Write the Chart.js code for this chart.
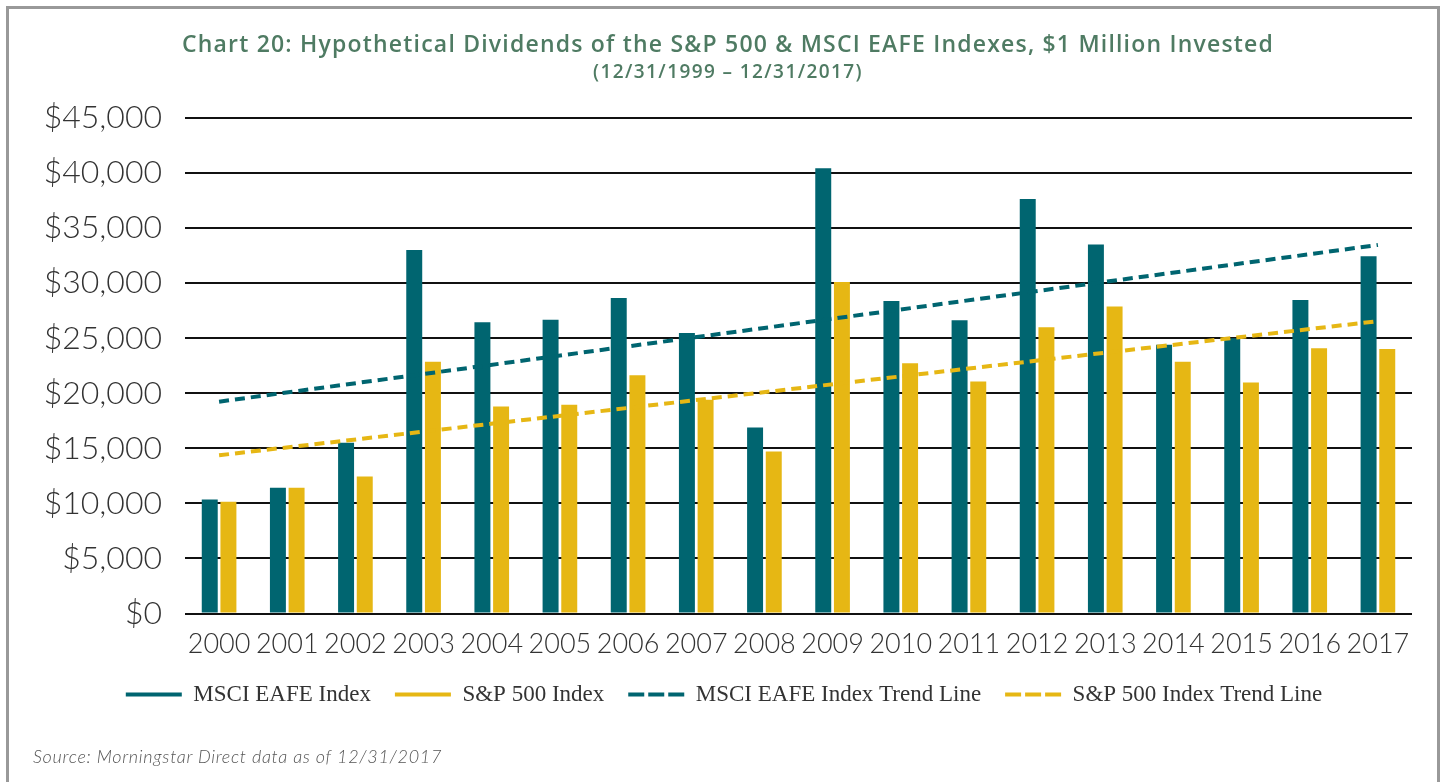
<!DOCTYPE html>
<html>
<head>
<meta charset="utf-8">
<title>Chart 20</title>
<script src="https://cdn.jsdelivr.net/npm/chart.js@4.4.1/dist/chart.umd.min.js"></script>
<style>
  html, body { margin: 0; padding: 0; background: #fff; }
  body { width: 1453px; height: 782px; position: relative; overflow: hidden; }
  #wrap { position: absolute; left: 0; top: 0; width: 1453px; height: 782px; }
  #frame {
    position: absolute; left: 6px; top: 6px; width: 1434px; height: 900px;
    border: 3px solid #999; box-sizing: border-box; pointer-events: none;
  }
  .head {
    position: absolute; left: 0; width: 1456px; text-align: center;
    font-family: "Open Sans", sans-serif; font-weight: 600; color: #4f7b63;
    line-height: 28px; white-space: nowrap;
  }
  #title { top: 29px; font-size: 23px; letter-spacing: 1.2px; }
  #subtitle { top: 57px; font-size: 19px; letter-spacing: 1.4px; }
  #source {
    position: absolute; left: 33px; top: 745px;
    font-family: Lato, sans-serif; font-style: italic; font-weight: 300;
    font-size: 18px; letter-spacing: 0.7px; color: #555;
  }
</style>
</head>
<body>
<div id="wrap"><canvas id="dividendChart"></canvas></div>
<div id="frame"></div>
<div class="head" id="title">Chart 20: Hypothetical Dividends of the S&amp;P 500 &amp; MSCI EAFE Indexes, $1 Million Invested</div>
<div class="head" id="subtitle">(12/31/1999 – 12/31/2017)</div>
<div id="source">Source: Morningstar Direct data as of 12/31/2017</div>
<script>
// values
const years = ['2000', '2001', '2002', '2003', '2004', '2005', '2006', '2007', '2008',
               '2009', '2010', '2011', '2012', '2013', '2014', '2015', '2016', '2017'];
const eafeDividends = [10350, 11430, 15510, 33020, 26460, 26670, 28660, 25480, 16890,
                       40440, 28390, 26640, 37650, 33510, 24400, 24990, 28480, 32450];
const spDividends = [10150, 11430, 12450, 22870, 18790, 18950, 21640, 19410, 14720,
                     30100, 22720, 21060, 26000, 27870, 22870, 20970, 24100, 24020];
// trend lines: only the two ends are read, the library draws the straight line between
const eafeTrend = [19240, null, null, null, null, null, null, null, null,
                   null, null, null, null, null, null, null, null, 33470];
const spTrend = [14370, null, null, null, null, null, null, null, null,
                 null, null, null, null, null, null, null, null, 26550];

const teal = '#006570';
const gold = '#e6b714';

document.addEventListener('DOMContentLoaded', () => {
    const ctx = document.getElementById('dividendChart').getContext('2d');
    new Chart(ctx, {
        type: 'bar',
        data: {
            labels: years,
            datasets: [{
                    label: 'MSCI EAFE Index',
                    data: eafeDividends,
                    backgroundColor: teal,
                    categoryPercentage: 0.548,
                    barPercentage: 0.855,
                    order: 1
                }, {
                    label: 'S&P 500 Index',
                    data: spDividends,
                    backgroundColor: gold,
                    categoryPercentage: 0.548,
                    barPercentage: 0.855,
                    order: 1
                }, {
                    type: 'line',
                    label: 'MSCI EAFE Index Trend Line',
                    data: eafeTrend,
                    borderColor: teal,
                    borderWidth: 4,
                    borderDash: [10, 6],
                    pointRadius: 0,
                    spanGaps: true,
                    fill: false,
                    order: 0
                }, {
                    type: 'line',
                    label: 'S&P 500 Index Trend Line',
                    data: spTrend,
                    borderColor: gold,
                    borderWidth: 4,
                    borderDash: [10, 6],
                    pointRadius: 0,
                    spanGaps: true,
                    fill: false,
                    order: 0
                }]
        },
        options: {
            responsive: true,
            maintainAspectRatio: false,
            animation: false,
            layout: {
                padding: { left: 36, right: 41, top: 118, bottom: 66 }
            },
            plugins: {
                legend: {
                    position: 'bottom',
                    labels: {
                        color: '#333',
                        font: { family: 'Liberation Serif', size: 23 },
                        usePointStyle: true,
                        pointStyleWidth: 56,
                        padding: 24,
                        generateLabels: function (chart) {
                            return chart.data.datasets.map(function (ds, i) {
                                return {
                                    text: ds.label,
                                    fillStyle: ds.type === 'line' ? ds.borderColor : ds.backgroundColor,
                                    strokeStyle: ds.type === 'line' ? ds.borderColor : ds.backgroundColor,
                                    lineWidth: 4,
                                    lineDash: ds.type === 'line' ? [16, 4] : [],
                                    pointStyle: 'line',
                                    fontColor: '#333',
                                    datasetIndex: i,
                                    hidden: false
                                };
                            });
                        }
                    }
                },
                tooltip: { enabled: false }
            },
            scales: {
                x: {
                    afterFit: function (scale) { scale.height = 45.5; },
                    grid: { display: false },
                    border: { display: false },
                    ticks: {
                        color: '#333',
                        padding: 7,
                        maxRotation: 0,
                        minRotation: 0,
                        autoSkip: false,
                        font: { family: 'Lato', size: 27, weight: '300' }
                    }
                },
                y: {
                    min: 0,
                    max: 45000,
                    afterFit: function (scale) { scale.width = 149; },
                    grid: { color: '#111', lineWidth: 2, drawTicks: false },
                    border: { display: false },
                    ticks: {
                        stepSize: 5000,
                        color: '#333',
                        padding: 23,
                        font: { family: 'Lato', size: 32, weight: '300' },
                        callback: function (value) {
                            return '$' + value.toLocaleString('en-US');
                        }
                    }
                }
            }
        }
    });
});
</script>
</body>
</html>
